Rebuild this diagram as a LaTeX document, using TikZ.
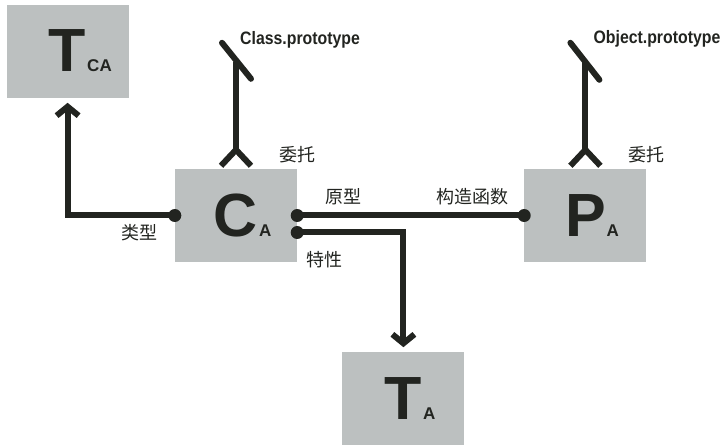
\documentclass[tikz,border=0pt]{standalone}
\usepackage{fontspec}
\setmainfont{Liberation Sans}
\newfontfamily\cjk{Noto Sans CJK SC}
\newfontfamily\protofont[FakeStretch=0.88]{Liberation Sans}
\usepackage{xcolor}
\usepackage{tikz}
\usetikzlibrary{positioning}
\usetikzlibrary{arrows.meta}

\definecolor{boxgray}{RGB}{188,192,192}
\definecolor{ink}{RGB}{34,36,32}

\newcommand{\objsub}[1]{\rlap{\kern1pt\fontsize{17}{17}\selectfont #1}}

\tikzset{
  objbox/.style={fill=boxgray, minimum width=122pt, minimum height=93pt, inner sep=0pt,
    text=ink, font=\fontsize{61}{61}\selectfont\bfseries},
  link/.style={draw=ink, line width=6pt},
  cjklabel/.style={text=ink, inner sep=0pt, font=\cjk\fontsize{18}{18}\selectfont},
  protolabel/.style={text=ink, inner sep=0pt, anchor=base west,
    font=\protofont\bfseries\fontsize{18}{18}\selectfont},
}

\begin{document}
\begin{tikzpicture}[x=1pt, y=1pt, >={Straight Barb[length=9pt,width=22pt]}]
\useasboundingbox (0,0) rectangle (723,445);

\node[objbox] (CA) at (236,229.5) {C\objsub{A}};
\node[objbox, above left=71pt and 46pt of CA] (TCA) {T\objsub{CA}};
\node[objbox, right=227pt of CA] (PA) {P\objsub{A}};
\node[objbox, below right=90pt and 45pt of CA] (TA) {T\objsub{A}};

\coordinate[below=5pt of TCA.south] (TCAin);
\coordinate[above=5pt of TA.north] (TAin);
\coordinate[below=17pt of CA.east] (CAattr);
\coordinate[above=19pt of CA.north] (CAfork);
\coordinate[above=107pt of CA.north] (CAup);
\coordinate[above=19pt of PA.north] (PAfork);
\coordinate[above=107pt of PA.north] (PAup);

% type, prototype, properties
\draw[link,->] (CA.west) -| (TCAin);
\draw[link] (CA.east) -- (PA.west);
\draw[link,->] (CAattr) -| (TAin);
\fill[ink] (CA.west) circle[radius=6.5pt];
\fill[ink] (CA.east) circle[radius=6.5pt];
\fill[ink] (CAattr) circle[radius=6.5pt];
\fill[ink] (PA.west) circle[radius=6.5pt];

% delegation
\draw[link] ([xshift=-15pt,yshift=3pt]CA.north) -- (CAfork) -- ([xshift=15pt,yshift=3pt]CA.north);
\draw[link] (CAfork) -- (CAup);
\draw[link,line cap=round] ([shift={(-14pt,19pt)}]CAup) -- ([shift={(15pt,-17pt)}]CAup);
\draw[link] ([xshift=-15pt,yshift=3pt]PA.north) -- (PAfork) -- ([xshift=15pt,yshift=3pt]PA.north);
\draw[link] (PAfork) -- (PAup);
\draw[link,line cap=round] ([shift={(-15pt,19pt)}]PAup) -- ([shift={(14pt,-18pt)}]PAup);

\node[protolabel] (clsproto) at ([shift={(4pt,17pt)}]CAup) {Class.prototype};
\node[protolabel] (objproto) at ([shift={(8pt,18pt)}]PAup) {Object.prototype};

\node[cjklabel, above=6pt of CA.north east] (CAdel) {委托};
\node[cjklabel, above=6pt of PA.north east] (PAdel) {委托};
\node[cjklabel, below left=9pt and 17pt of CA.west] (typelbl) {类型};
\node[cjklabel, above right=10pt and 28pt of CA.east] (protolbl) {原型};
\node[cjklabel, above left=10pt and 16pt of PA.west] (ctorlbl) {构造函数};
\node[cjklabel, below right=19pt and 9pt of CAattr] (proplbl) {特性};
\end{tikzpicture}
\end{document}
